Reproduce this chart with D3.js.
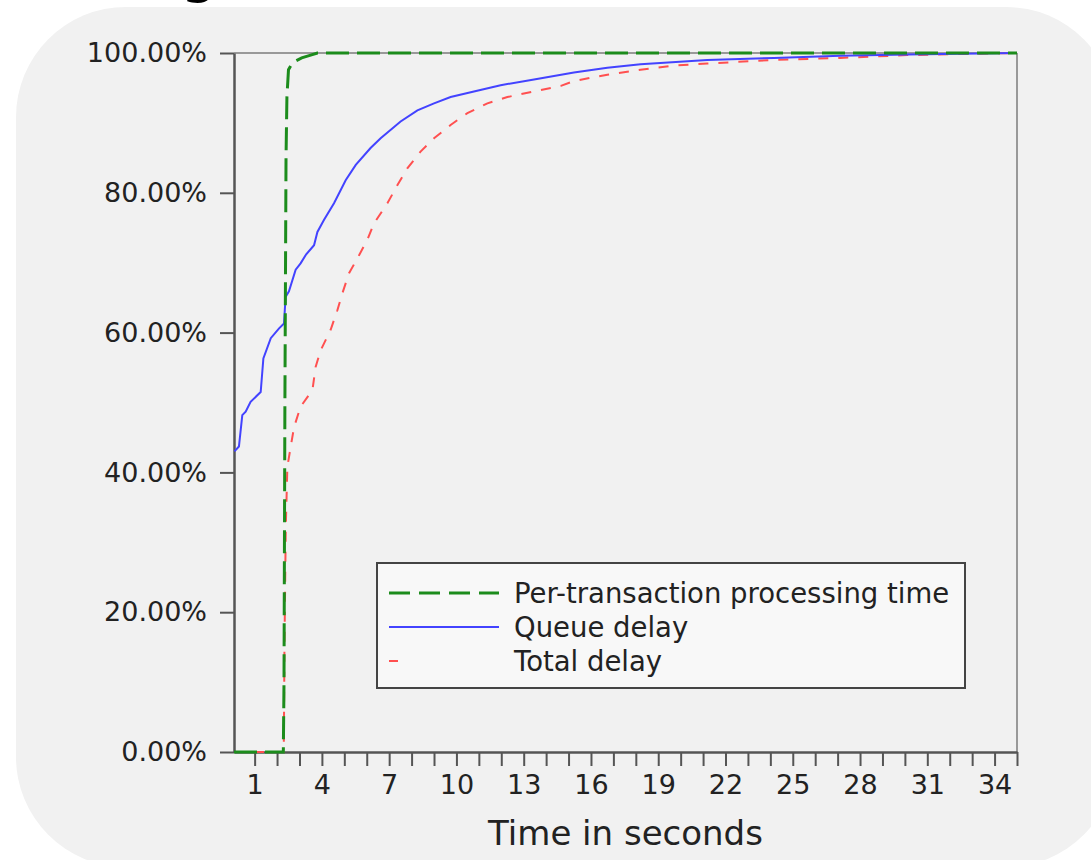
<!DOCTYPE html>
<html>
<head>
<meta charset="utf-8">
<script src="https://cdn.jsdelivr.net/npm/d3@7"></script>
<style>
  body { margin: 0; background: #fff; }
  text { font-family: "DejaVu Sans", sans-serif; fill: #222; }
</style>
</head>
<body>
<div id="chart"></div>
<script>
// per-transaction processing time (seconds, cumulative %)
const procTime = [0.08, 2.28, 2.31, 2.35, 2.40, 2.44, 2.51, 2.65, 2.80, 3.10, 3.50, 3.80, 35];
const procCdf  = [0, 0, 10, 50, 85, 93.7, 97.6, 98.4, 98.8, 99.3, 99.7, 100, 100];

// queue delay
const queueTime = [0.10, 0.30, 0.45, 0.60, 0.82, 1.27, 1.39, 1.72, 2.09, 2.31, 2.38, 2.53, 2.83, 3.05, 3.30,
  3.65, 3.80, 4.09, 4.54, 5.06, 5.51, 6.17, 6.62, 7.51, 8.26, 9.00, 9.74, 10.78, 11.97, 13.46,
  15.24, 16.73, 18.21, 21.19, 24.16, 27.13, 30.10, 34.95];
const queueCdf = [43.0, 43.7, 48.2, 48.7, 50.1, 51.5, 56.3, 59.2, 60.6, 61.3, 65.1, 65.9, 69.0, 69.9, 71.2,
  72.5, 74.4, 76.1, 78.5, 81.8, 84.0, 86.4, 87.8, 90.2, 91.8, 92.8, 93.7, 94.5, 95.4, 96.2,
  97.2, 97.9, 98.4, 99.0, 99.3, 99.6, 99.8, 100];

// total delay
const totalTime = [0.08, 2.30, 2.33, 2.39, 2.46, 2.61, 2.76, 3.05, 3.58, 3.72, 3.95, 4.39, 4.69, 4.91, 5.21,
  5.58, 6.03, 6.32, 6.92, 7.37, 7.81, 8.40, 9.00, 9.74, 10.49, 11.38, 12.27, 13.46, 14.66, 15.24,
  16.73, 18.21, 19.70, 21.19, 24.16, 27.13, 30.10, 34.95];
const totalCdf = [0, 0, 15, 32.2, 40.8, 43.7, 46.5, 49.4, 51.8, 55.1, 57.5, 60.4, 63.2, 65.6, 68.5,
  70.6, 73.3, 75.6, 78.5, 81.1, 83.5, 85.9, 87.8, 89.7, 91.4, 92.8, 93.7, 94.5, 95.3, 96.0,
  96.9, 97.6, 98.2, 98.5, 99.0, 99.3, 99.7, 100];

const seriesNames = ["Per-transaction processing time", "Queue delay", "Total delay"];
const xTicks = d3.range(1, 36);
const yTicks = [0, 20, 40, 60, 80, 100];

const width = 1091, height = 860;
const margin = {top: 53, right: 74, bottom: 108, left: 234};
const innerW = width - margin.left - margin.right;
const innerH = height - margin.top - margin.bottom;

const svg = d3.select("#chart").append("svg")
    .attr("width", width)
    .attr("height", height);

// rounded panel
svg.append("rect")
    .attr("x", 16).attr("y", 7)
    .attr("width", 1100).attr("height", 860)
    .attr("rx", 110).attr("ry", 110)
    .attr("fill", "#f1f1f1");

// title above, only its descender shows
svg.append("text")
    .attr("x", 180).attr("y", -10)
    .style("font-size", "60px")
    .style("fill", "#000")
    .text("g");

const g = svg.append("g")
    .attr("transform", `translate(${margin.left},${margin.top})`);

const x = d3.scaleLinear().domain([0.08, 35]).range([0, innerW]);
const y = d3.scaleLinear().domain([0, 100]).range([innerH, 0]);

// top and right frame
g.append("line").attr("x1", 0).attr("x2", innerW).attr("y1", 0).attr("y2", 0)
    .attr("stroke", "#999").attr("stroke-width", 2);
g.append("line").attr("x1", innerW).attr("x2", innerW).attr("y1", 0).attr("y2", innerH)
    .attr("stroke", "#999").attr("stroke-width", 2);

const xAxis = g.append("g")
    .attr("transform", `translate(0,${innerH})`)
    .call(d3.axisBottom(x)
        .tickValues(xTicks)
        .tickSize(14)
        .tickSizeOuter(0)
        .tickPadding(9)
        .tickFormat(d => (d - 1) % 3 === 0 ? d : ""));

const yAxis = g.append("g")
    .call(d3.axisLeft(y)
        .tickValues(yTicks)
        .tickSize(14)
        .tickSizeOuter(0)
        .tickPadding(13)
        .tickFormat(d => d.toFixed(2) + "%"));

[xAxis, yAxis].forEach(a => {
    a.select(".domain").attr("stroke", "#555").attr("stroke-width", 2.5);
    a.selectAll(".tick line").attr("stroke", "#555").attr("stroke-width", 2);
    a.selectAll(".tick text").style("font-size", "27px").style("fill", "#222")
        .attr("font-family", null);
});

// x label
g.append("text")
    .attr("x", innerW / 2)
    .attr("y", innerH + 93)
    .attr("text-anchor", "middle")
    .style("font-size", "34px")
    .text("Time in seconds");

const line = d3.line()
    .x(d => x(d[0]))
    .y(d => y(d[1]));

const series = [
    {name: seriesNames[0], pts: d3.zip(procTime, procCdf), color: "#1c8c1c", w: 3, dash: "23,8"},
    {name: seriesNames[1], pts: d3.zip(queueTime, queueCdf), color: "#4343ff", w: 2, dash: null},
    {name: seriesNames[2], pts: d3.zip(totalTime, totalCdf), color: "#ff5050", w: 2, dash: "10,10"}
];

// draw in order: total, queue, processing on top
[series[2], series[1], series[0]].forEach(s => {
    g.append("path")
        .datum(s.pts)
        .attr("d", line)
        .attr("fill", "none")
        .attr("stroke", s.color)
        .attr("stroke-width", s.w)
        .attr("stroke-dasharray", s.dash);
});

// legend
const legend = svg.append("g").attr("transform", "translate(377,563)");
legend.append("rect")
    .attr("width", 588).attr("height", 125)
    .attr("fill", "#f8f8f8")
    .attr("stroke", "#444")
    .attr("stroke-width", 2);

const legendLen = [110, 110, 9];
series.forEach((s, i) => {
    const ly = 30 + i * 34;
    legend.append("line")
        .attr("x1", 12).attr("x2", 12 + legendLen[i])
        .attr("y1", ly).attr("y2", ly)
        .attr("stroke", s.color)
        .attr("stroke-width", s.w)
        .attr("stroke-dasharray", i === 0 ? "21,9" : null);
    legend.append("text")
        .attr("x", 137).attr("y", ly)
        .attr("dy", "0.35em")
        .style("font-size", "27.5px")
        .text(s.name);
});
</script>
</body>
</html>
